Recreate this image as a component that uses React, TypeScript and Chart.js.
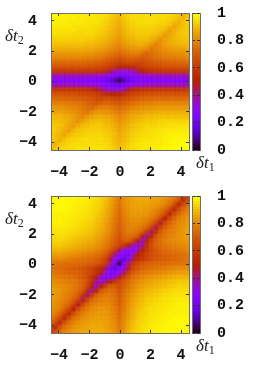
import React, { useEffect, useRef } from "react";
import { Chart, registerables } from "chart.js";
Chart.register(...registerables);

const gridX = [-4.5,-4.2,-3.9,-3.6,-3.3,-3,-2.7,-2.4,-2.1,-1.8,-1.5,-1.2,-0.9,-0.6,-0.3,0,0.3,0.6,0.9,1.2,1.5,1.8,2.1,2.4,2.7,3,3.3,3.6,3.9,4.2,4.5];
const gridY = [4.5,4.2,3.9,3.6,3.3,3,2.7,2.4,2.1,1.8,1.5,1.2,0.9,0.6,0.3,0,-0.3,-0.6,-0.9,-1.2,-1.5,-1.8,-2.1,-2.4,-2.7,-3,-3.3,-3.6,-3.9,-4.2,-4.5];
const tickValues = [-4,-2,0,2,4];
const barTicks = [0,0.2,0.4,0.6,0.8,1];
const barLevels = [0.02,0.04,0.06,0.08,0.1,0.12,0.14,0.16,0.18,0.2,0.22,0.24,0.26,0.28,0.3,0.32,0.34,0.36,0.38,0.4,0.42,0.44,0.46,0.48,0.5,0.52,0.54,0.56,0.58,0.6,0.62,0.64,0.66,0.68,0.7,0.72,0.74,0.76,0.78,0.8,0.82,0.84,0.86,0.88,0.9,0.92,0.94,0.96,0.98,1];

const heatA = [
[99,99,99,98,98,98,98,98,97,97,97,96,95,94,92,90,93,94,95,96,96,96,96,96,96,95,95,94,93,91,88],
[99,99,98,98,98,98,97,97,97,97,96,96,95,93,91,89,92,94,95,95,95,95,95,95,95,95,94,93,91,88,91],
[98,98,98,98,97,97,97,97,96,96,96,95,94,92,90,88,91,93,94,95,95,95,95,95,94,94,93,91,88,91,93],
[97,97,97,97,97,96,96,96,96,95,95,94,93,91,89,87,90,92,93,94,94,94,94,93,93,92,90,86,89,91,92],
[96,96,96,96,96,96,95,95,95,95,94,93,92,90,88,86,89,91,92,93,93,93,93,92,91,89,85,88,90,92,92],
[95,95,95,95,95,94,94,94,94,94,93,92,91,89,87,85,88,90,91,92,92,92,91,90,88,84,87,89,91,92,92],
[93,93,93,93,93,93,93,93,92,92,91,90,89,87,85,83,86,88,89,90,90,90,88,86,82,85,87,89,90,91,91],
[91,91,91,91,91,91,91,91,90,90,89,88,87,85,83,81,84,86,87,88,88,86,84,80,83,85,87,88,89,89,90],
[88,88,88,88,88,88,88,88,87,87,86,85,84,82,80,78,80,82,83,84,83,81,77,79,81,83,84,85,86,86,87],
[84,84,84,84,84,84,84,84,83,83,82,81,80,78,76,74,76,78,79,79,77,73,75,77,79,80,81,82,82,83,83],
[80,80,80,80,80,80,80,80,79,79,78,77,75,73,71,69,70,72,73,72,69,71,73,75,76,77,78,78,79,79,80],
[74,74,74,74,74,74,74,74,73,73,72,71,69,67,65,62,64,66,66,64,65,67,69,70,71,72,72,73,73,74,74],
[68,68,68,68,68,68,68,68,67,67,66,65,63,60,57,52,52,53,55,58,61,63,64,65,66,67,67,67,68,68,68],
[59,59,59,59,59,59,59,59,58,58,57,56,54,46,38,35,34,35,38,44,50,54,57,58,58,58,58,59,59,59,59],
[37,37,37,37,37,37,37,37,36,36,35,34,32,28,24,20,23,26,28,31,33,34,35,36,36,36,37,37,37,37,37],
[26,26,26,26,26,26,25,25,25,24,24,23,21,17,11,5,11,17,21,23,24,24,25,25,25,26,26,26,26,26,26],
[37,37,37,37,37,36,36,36,35,34,33,31,28,26,23,20,24,28,32,34,35,36,36,37,37,37,37,37,37,37,37],
[59,59,59,59,58,58,58,58,57,54,50,44,38,35,34,35,38,46,54,56,57,58,58,59,59,59,59,59,59,59,59],
[68,68,68,67,67,67,66,65,64,63,62,58,55,53,52,52,57,60,63,65,66,67,67,68,68,68,68,68,68,68,68],
[74,74,73,73,72,72,71,70,69,67,65,64,66,66,64,62,65,67,69,71,72,73,73,74,74,74,74,74,74,74,74],
[80,79,79,78,78,77,76,75,73,71,69,72,73,72,70,69,71,73,75,77,78,79,79,80,80,80,80,80,80,80,80],
[83,83,82,82,81,80,79,77,75,73,77,79,79,78,76,74,76,78,80,81,82,83,83,84,84,84,84,84,84,84,84],
[87,86,86,85,84,83,81,79,77,81,83,84,83,82,80,78,80,82,84,85,86,87,87,88,88,88,88,88,88,88,88],
[90,89,89,88,87,85,83,80,84,86,88,88,87,86,84,81,83,85,87,88,89,90,90,91,91,91,91,91,91,91,91],
[91,91,90,89,87,85,82,86,88,90,90,90,89,88,86,83,85,87,89,90,91,92,92,93,94,94,94,94,94,94,94],
[92,92,91,89,87,84,88,90,91,92,92,92,91,90,88,85,87,89,91,92,93,94,94,94,95,95,96,96,96,96,96],
[92,92,90,88,85,89,91,92,93,93,93,93,92,91,89,86,88,90,92,93,94,95,95,96,96,97,97,97,97,97,97],
[92,91,89,86,90,92,93,93,94,94,94,94,93,92,90,87,89,91,93,94,95,95,96,96,97,97,98,98,98,98,98],
[93,91,88,91,93,94,94,95,95,95,95,95,94,93,90,88,90,92,94,95,96,96,96,97,97,98,98,99,99,99,99],
[91,88,91,93,94,95,95,95,95,95,95,95,95,94,91,89,91,93,95,96,96,97,97,97,97,98,98,99,99,100,100],
[88,91,93,94,95,95,96,96,96,96,96,96,95,94,92,90,92,94,95,96,97,97,97,98,98,99,99,99,100,100,100],
];

const heatB = [
[99,99,99,99,99,99,98,98,97,96,95,94,92,88,83,78,83,85,86,87,87,87,86,86,85,84,82,79,75,67,54],
[99,99,99,99,99,99,98,98,97,96,95,93,91,87,82,77,82,84,86,87,87,87,86,85,84,82,79,75,67,54,65],
[99,99,99,99,99,98,98,97,97,95,94,93,90,86,81,76,81,84,85,86,86,86,85,84,82,79,75,67,54,66,74],
[99,99,99,99,98,98,97,97,96,95,94,92,89,85,80,75,80,83,85,85,85,84,83,81,78,74,66,53,66,74,78],
[98,98,98,98,98,97,97,96,96,94,93,91,88,84,79,74,79,82,84,84,84,83,81,78,74,66,52,65,73,78,81],
[98,98,98,98,97,97,96,96,95,94,92,90,87,83,78,73,78,81,83,83,82,81,78,74,66,50,65,73,78,81,83],
[98,98,98,97,97,96,96,95,94,93,91,89,86,82,77,72,77,80,81,81,80,78,73,64,48,64,72,77,80,82,84],
[97,97,97,97,96,96,95,94,93,92,90,88,85,81,76,71,76,79,80,79,77,73,64,46,63,71,76,79,81,83,85],
[96,96,96,96,95,95,94,93,92,91,89,87,84,80,75,70,75,78,78,76,71,60,43,58,70,75,78,80,82,84,85],
[95,95,95,95,94,93,92,91,90,89,87,85,82,78,73,68,73,75,74,70,52,38,54,68,74,77,79,81,83,84,85],
[94,94,94,93,92,91,90,89,88,87,85,83,80,76,71,66,70,71,62,50,34,50,64,72,75,78,80,81,82,83,84],
[92,92,92,91,90,89,88,87,86,85,83,81,78,74,69,64,58,50,40,34,40,56,67,72,75,77,78,79,80,81,82],
[89,89,89,88,87,86,85,84,83,82,80,78,75,70,62,46,34,30,28,34,50,58,66,70,73,75,76,77,78,79,80],
[85,85,85,84,83,82,81,80,79,78,76,74,70,60,42,32,26,24,36,50,56,62,66,69,71,72,73,74,75,76,77],
[81,81,81,80,79,78,77,76,75,74,72,69,64,46,32,24,16,26,44,54,58,63,66,69,70,71,72,73,74,75,76],
[76,76,76,75,75,74,74,73,72,71,69,65,60,42,26,5,26,42,60,65,69,71,72,73,74,74,75,75,76,76,76],
[76,75,74,73,72,71,70,69,66,63,58,54,44,26,16,24,32,46,64,69,72,74,75,76,77,78,79,80,81,81,81],
[77,76,75,74,73,72,71,69,66,62,56,50,36,24,26,32,42,60,70,74,76,78,79,80,81,82,83,84,85,85,85],
[80,79,78,77,76,75,73,70,66,58,50,34,28,30,34,46,62,70,75,78,80,82,83,84,85,86,87,88,89,89,89],
[82,81,80,79,78,77,75,72,67,56,40,34,40,50,58,64,69,74,78,81,83,85,86,87,88,89,90,91,92,92,92],
[84,83,82,81,80,78,75,72,64,50,34,50,62,71,70,66,71,76,80,83,85,87,88,89,90,91,92,93,94,94,94],
[85,84,83,81,79,77,74,68,54,38,52,70,74,75,73,68,73,78,82,85,87,89,90,91,92,93,94,95,95,95,95],
[85,84,82,80,78,75,70,58,43,60,71,76,78,78,75,70,75,80,84,87,89,91,92,93,94,95,95,96,96,96,96],
[85,83,81,79,76,71,63,46,64,73,77,79,80,79,76,71,76,81,85,88,90,92,93,94,95,96,96,97,97,97,97],
[84,82,80,77,72,64,48,64,73,78,80,81,81,80,77,72,77,82,86,89,91,93,94,95,96,96,97,97,98,98,98],
[83,81,78,73,65,50,66,74,78,81,82,83,83,81,78,73,78,83,87,90,92,94,95,96,96,97,97,98,98,98,98],
[81,78,73,65,52,66,74,78,81,83,84,84,84,82,79,74,79,84,88,91,93,94,96,96,97,97,98,98,98,98,98],
[78,74,66,53,66,74,78,81,83,84,85,85,85,83,80,75,80,85,89,92,94,95,96,97,97,98,98,99,99,99,99],
[74,66,54,67,75,79,82,84,85,86,86,86,85,84,81,76,81,86,90,93,94,95,97,97,98,98,99,99,99,99,99],
[65,54,67,75,79,82,84,85,86,87,87,87,86,84,82,77,82,87,91,93,95,96,97,98,98,99,99,99,99,99,99],
[54,67,75,79,82,84,85,86,86,87,87,87,86,85,83,78,83,88,92,94,95,96,97,98,98,99,99,99,99,99,99],
];

const AXIS = "#6e6e6e";
const TEXT = "#111";
const MONO = "'Liberation Mono', monospace";
const W = 262, H = 183, LEFT = 51, RIGHT = 189, TOP = 13, BOTTOM = 150, BAR_L = 192, BAR_R = 200;

function palette(v: number): string {
  const c = Math.max(0, Math.min(1, v));
  const r = Math.sqrt(c), g = c * c * c, b = Math.max(0, Math.sin(2 * Math.PI * c));
  return `rgb(${Math.round(r * 255)},${Math.round(g * 255)},${Math.round(b * 255)})`;
}

const setTicks = (vals: number[]) => (s: any) => { s.ticks = vals.map((value) => ({ value })); };

function frameAxis(position: string, size: number, vals: number[], min: number, max: number, showLabels: boolean, padding: number) {
  return {
    type: "linear", position, min, max,
    afterBuildTicks: setTicks(vals),
    afterFit: (s: any) => {
      if (s.isHorizontal()) s.height = size; else s.width = size;
      s.paddingTop = 0; s.paddingBottom = 0; s.paddingLeft = 0; s.paddingRight = 0;
    },
    border: { display: true, color: AXIS, width: 1, z: 2 },
    grid: { drawOnChartArea: false, drawTicks: true, tickLength: -3, color: "#333", z: 2 },
    ticks: {
      display: showLabels, padding, color: TEXT, maxRotation: 0, autoSkip: false,
      align: "center", crossAlign: "near",
      font: { family: MONO, size: 15, weight: "bold" },
      callback: (v: number) => String(v).replace("-", "\u2212"),
    },
  };
}

const softCells = {
  id: "softCells",
  beforeDatasetsDraw(chart: any) { chart.ctx.filter = "blur(1.3px)"; },
  afterDatasetsDraw(chart: any) { chart.ctx.filter = "none"; },
};

function makeHeat(canvas: HTMLCanvasElement, rows: number[][]) {
  const data: { x: number; y: number }[] = [];
  const colors: string[] = [];
  rows.forEach((row, j) => row.forEach((v, i) => {
    data.push({ x: gridX[i], y: gridY[j] });
    colors.push(palette(v / 100));
  }));
  return new Chart(canvas, {
    type: "scatter",
    data: { datasets: [{ data, pointStyle: "rect", pointRadius: 4.4, pointBorderWidth: 0, pointBackgroundColor: colors } as any] },
    plugins: [softCells],
    options: {
      animation: false, responsive: false, events: [],
      layout: { padding: 0, autoPadding: false },
      plugins: { legend: { display: false }, tooltip: { enabled: false } },
      scales: {
        x: frameAxis("bottom", H - BOTTOM, tickValues, -4.52, 4.52, true, 16),
        y: frameAxis("left", LEFT, tickValues, -4.52, 4.52, true, 17),
        x2: frameAxis("top", TOP, tickValues, -4.52, 4.52, false, 0),
        y2: frameAxis("right", W - RIGHT, tickValues, -4.52, 4.52, false, 0),
      },
    } as any,
  });
}

function makeBar(canvas: HTMLCanvasElement) {
  return new Chart(canvas, {
    type: "bar",
    data: {
      labels: ["cb"],
      datasets: barLevels.map((v) => ({
        data: [v], backgroundColor: palette(v), borderWidth: 0, barPercentage: 1, categoryPercentage: 1,
      })),
    },
    options: {
      animation: false, responsive: false, events: [],
      layout: { padding: 0, autoPadding: false },
      plugins: { legend: { display: false }, tooltip: { enabled: false } },
      scales: {
        x: {
          type: "category", stacked: true, position: "bottom",
          afterFit: (s: any) => { s.height = H - BOTTOM; s.paddingLeft = 0; s.paddingRight = 0; },
          ticks: { display: false }, grid: { display: false },
          border: { display: true, color: AXIS, z: 2 },
        },
        x2: frameAxis("top", TOP, [], 0, 1, false, 0),
        y: frameAxis("right", W - BAR_R, barTicks, 0, 1, true, 20),
        y2: frameAxis("left", BAR_L, barTicks, 0, 1, false, 0),
      },
    } as any,
  });
}

function Panel({ rows, top }: { rows: number[][]; top: number }) {
  const heatRef = useRef<HTMLCanvasElement>(null);
  const barRef = useRef<HTMLCanvasElement>(null);
  useEffect(() => {
    const a = makeHeat(heatRef.current!, rows);
    const b = makeBar(barRef.current!);
    return () => { a.destroy(); b.destroy(); };
  }, [rows]);
  const c: React.CSSProperties = { position: "absolute", left: 0, top: 0, width: W, height: H };
  const lab: React.CSSProperties = { position: "absolute", font: "italic 17px 'Liberation Serif', serif", color: "#222", lineHeight: "18px", whiteSpace: "nowrap" };
  const sub: React.CSSProperties = { fontStyle: "normal", fontSize: 12, position: "relative", top: 3 };
  return (
    <div style={{ position: "absolute", left: 0, top, width: W, height: H }}>
      <canvas ref={heatRef} width={W} height={H} style={c} />
      <canvas ref={barRef} width={W} height={H} style={c} />
      <span style={{ ...lab, left: 5, top: 27 }}>δt<span style={sub}>2</span></span>
      <span style={{ ...lab, left: 196, top: 154 }}>δt<span style={sub}>1</span></span>
    </div>
  );
}

export default function App() {
  useEffect(() => { document.body.style.margin = "0"; }, []);
  return (
    <div style={{ position: "absolute", left: 0, top: 0, width: W, height: 366, overflow: "hidden", background: "#fff" }}>
      <Panel rows={heatA} top={0} />
      <Panel rows={heatB} top={183} />
    </div>
  );
}
